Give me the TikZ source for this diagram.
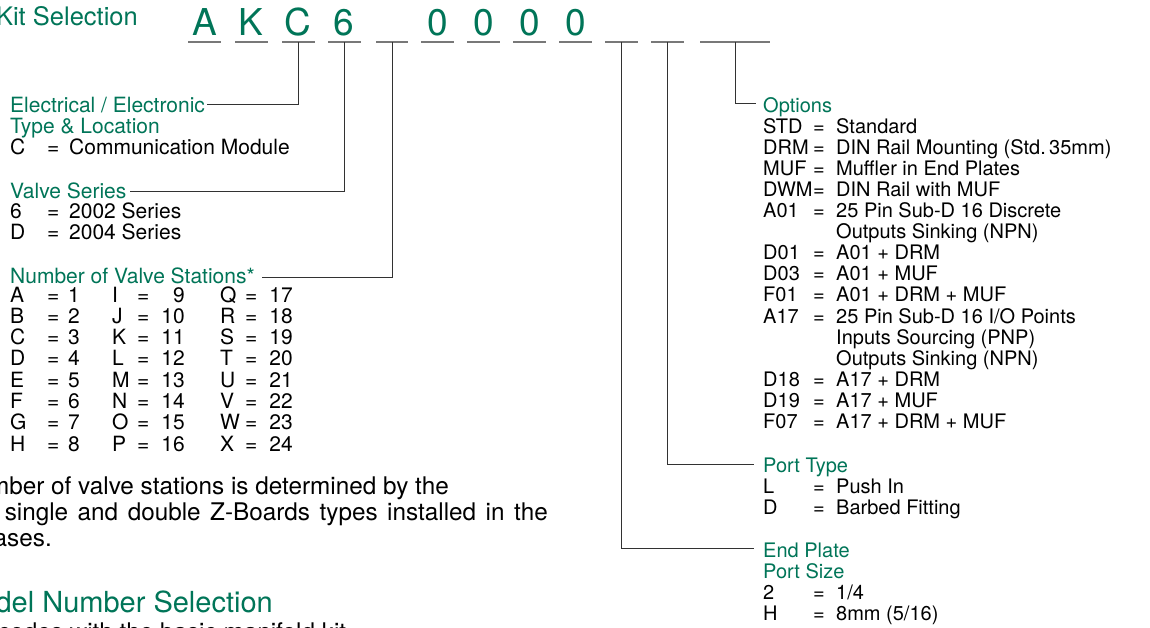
\documentclass[tikz,border=0pt]{standalone}
\usepackage{fontspec}
\setmainfont{TeX Gyre Heros}
\definecolor{grn}{RGB}{0,117,88}
\definecolor{ulgray}{RGB}{120,120,120}
\definecolor{lngray}{RGB}{50,50,50}
\begin{document}
\begin{tikzpicture}[x=1pt,y=-1pt,
  txt/.style={anchor=base west, inner sep=0pt, font=\fontsize{21}{21}\selectfont},
  txtr/.style={txt, anchor=base east},
  rtxt/.style={anchor=base west, inner sep=0pt, font=\fontsize{20}{21}\selectfont},
  head/.style={txt, text=grn},
  rhead/.style={rtxt, text=grn},
  big/.style={anchor=base, inner sep=0pt, text=grn, font=\fontsize{37}{37}\selectfont},
  uline/.style={draw=ulgray, line width=2pt},
  conn/.style={draw=lngray, line width=1pt},
  foot/.style={anchor=base east, inner sep=0pt, font=\fontsize{24.3}{26}\selectfont},
  title/.style={anchor=base east, inner sep=0pt, text=grn}]
\useasboundingbox (0,0) rectangle (1150,627);
\clip (0,0) rectangle (1150,627);
\fill[white] (0,0) rectangle (1150,627);

% titles
\node[title, font=\fontsize{25.5}{26}\selectfont] (kit) at (138,25) {Manifold Kit Selection};
\node[title, font=\fontsize{29}{30}\selectfont] (model) at (273,612) {Model Number Selection};

% underline segments
\foreach \n/\a/\b in {uA/188/221, uK/235/268, uC/282/315, u6/328/361, ub1/376/408,
  u01/421/454, u02/467/500, u03/513/546, u04/559/592, ub2/605/638, ub3/651/684, ub4/700/770}{
  \draw[uline] (\a,42) -- (\b,42);
  \coordinate (\n) at ({(\a+\b)/2},42);
}
% code letters
\node[big] (lA) at (204.5,35) {A};
\node[big] (lK) at (250.5,35) {K};
\node[big] (lC) at (297.5,35) {C};
\node[big] (l6) at (343.5,35) {6};
\node[big] (l01) at (437.5,35) {0};
\node[big] (l02) at (483.5,35) {0};
\node[big] (l03) at (529.5,35) {0};
\node[big] (l04) at (575.5,35) {0};

% left labels
\node[head] (elec) at (10,112) {Electrical / Electronic};
\node[head] (typeloc) at (10,133) {Type \& Location};
\node[txt] (cK) at (10,154) {C};
\node[txt] (cE) at (47,154) {=};
\node[txt] (cV) at (69,154) {Communication Module};

\node[head] (vser) at (10,198) {Valve Series};
\node[txt] (v1K) at (10,218.5) {6};
\node[txt] (v1E) at (47,218.5) {=};
\node[txt] (v1V) at (69,218.5) {2002 Series};
\node[txt] (v2K) at (10,239.5) {D};
\node[txt] (v2E) at (47,239.5) {=};
\node[txt] (v2V) at (69,239.5) {2004 Series};

\node[head] (nvs) at (10,283) {Number of Valve Stations*};

\foreach \i/\k/\v in {0/A/1,1/B/2,2/C/3,3/D/4,4/E/5,5/F/6,6/G/7,7/H/8}{
  \node[txt] (nA\i) at (10,302+21.3*\i) {\k};
  \node[txt] (nAe\i) at (47,302+21.3*\i) {=};
  \node[txt] (nAv\i) at (68,302+21.3*\i) {\v};
}
\foreach \i/\k/\v in {0/I/9,1/J/10,2/K/11,3/L/12,4/M/13,5/N/14,6/O/15,7/P/16}{
  \node[txt] (nB\i) at (112,302+21.3*\i) {\k};
  \node[txt] (nBe\i) at (137,302+21.3*\i) {=};
  \node[txtr] (nBv\i) at (185,302+21.3*\i) {\v};
}
\foreach \i/\k/\v in {0/Q/17,1/R/18,2/S/19,3/T/20,4/U/21,5/V/22,6/W/23,7/X/24}{
  \node[txt] (nC\i) at (220,302+21.3*\i) {\k};
  \node[txt] (nCe\i) at (245,302+21.3*\i) {=};
  \node[txtr] (nCv\i) at (293,302+21.3*\i) {\v};
}

% footnote
\node[foot] (f1) at (449,494) {*Number of valve stations is determined by the};
\node[foot] (f2) at (548,520) {\spaceskip=9.5pt combination of single and double Z-Boards types installed in the};
\node[foot] (f3) at (52,546) {bases.};
\node[anchor=base west, inner sep=0pt, font=\fontsize{24.3}{26}\selectfont] (f4) at (-2,640.5) {codes with the basic manifold kit};

% right labels
\node[rhead] (opt) at (763,112) {Options};
\foreach \i/\k/\v in {1/STD/{Standard}, 2/DRM/{DIN Rail Mounting (Std.\,35mm)}, 3/MUF/{Muffler in End Plates},
  5/A01/{25 Pin Sub-D 16 Discrete}, 7/D01/{A01 + DRM}, 8/D03/{A01 + MUF}, 9/F01/{A01 + DRM + MUF},
  10/A17/{25 Pin Sub-D 16 I/O Points}, 13/D18/{A17 + DRM}, 14/D19/{A17 + MUF}, 15/F07/{A17 + DRM + MUF}}{
  \node[rtxt] (oK\i) at (763,{112+21.1*\i}) {\k};
  \node[rtxt] (oE\i) at (813,{112+21.1*\i}) {=};
  \node[rtxt] (oV\i) at (836,{112+21.1*\i}) {\v};
}
\node[rtxt] (oK4) at (763,{112+21.1*4}) {DWM};
\node[rtxt] (oE4) at (813,{112+21.1*4}) {=};
\node[rtxt] (oV4) at (836,{112+21.1*4}) {DIN Rail with MUF};
\node[rtxt] (oV6) at (836,{112+21.1*6}) {Outputs Sinking (NPN)};
\node[rtxt] (oV11) at (836,{112+21.1*11}) {Inputs Sourcing (PNP)};
\node[rtxt] (oV12) at (836,{112+21.1*12}) {Outputs Sinking (NPN)};

\node[rhead] (ptype) at (763,472) {Port Type};
\node[rtxt] (p1K) at (763,493) {L};
\node[rtxt] (p1E) at (813,493) {=};
\node[rtxt] (p1V) at (836,493) {Push In};
\node[rtxt] (p2K) at (763,514) {D};
\node[rtxt] (p2E) at (813,514) {=};
\node[rtxt] (p2V) at (836,514) {Barbed Fitting};

\node[rhead] (endp) at (763,557) {End Plate};
\node[rhead] (psize) at (763,578) {Port Size};
\node[rtxt] (s1K) at (763,599) {2};
\node[rtxt] (s1E) at (813,599) {=};
\node[rtxt] (s1V) at (836,599) {1/4};
\node[rtxt] (s2K) at (763,620) {H};
\node[rtxt] (s2E) at (813,620) {=};
\node[rtxt] (s2V) at (836,620) {8mm (5/16)};

% connector end points
\coordinate (eElec) at (207,104);
\coordinate (eVser) at (130,191);
\coordinate (eNvs) at (262,277);
\coordinate (eOpt) at (756,103);
\coordinate (ePt) at (754,464);
\coordinate (eEp) at (754,548);

% connectors
\draw[conn] (uC) |- (eElec);
\draw[conn] (u6) |- (eVser);
\draw[conn] (ub1) |- (eNvs);
\draw[conn] (ub4) |- (eOpt);
\draw[conn] (ub3) |- (ePt);
\draw[conn] (ub2) |- (eEp);
\end{tikzpicture}
\end{document}
